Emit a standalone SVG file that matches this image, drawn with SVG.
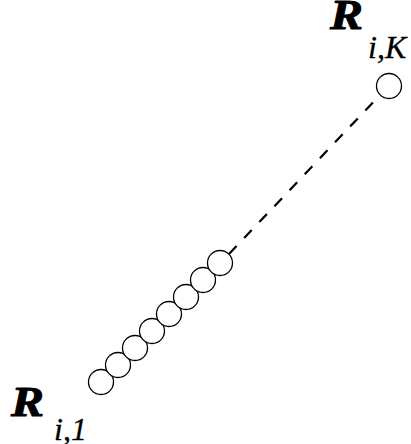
<svg xmlns="http://www.w3.org/2000/svg" width="411" height="444" viewBox="0 0 411 444">
<style>
.bead{fill:#fff;stroke:#000;stroke-width:1.3}
.R{font-family:"Liberation Serif",serif;font-weight:bold;font-style:italic;fill:#000;stroke:#000;stroke-width:0.9}
.sub{font-family:"Liberation Serif",serif;font-style:italic;fill:#000;stroke:#000;stroke-width:0.3}
.dash{stroke:#000;stroke-width:2.2;stroke-dasharray:11 11;fill:none}
</style>
<rect width="411" height="444" fill="#fff"/>
<g id="connectors">
<line class="dash" x1="229" y1="254" x2="380" y2="95"/>
</g>
<g id="chain">
<circle class="bead" cx="101" cy="382" r="12.5"/>
<circle class="bead" cx="118" cy="365" r="12.5"/>
<circle class="bead" cx="135" cy="348" r="12.5"/>
<circle class="bead" cx="152" cy="331" r="12.5"/>
<circle class="bead" cx="169" cy="314" r="12.5"/>
<circle class="bead" cx="186" cy="297" r="12.5"/>
<circle class="bead" cx="203" cy="280" r="12.5"/>
<circle class="bead" cx="220" cy="263" r="12.5"/>
</g>
<g id="endK">
<circle class="bead" cx="389" cy="86" r="12.5"/>
</g>
<g id="labelK">
<text class="R" x="330" y="29" font-size="42" textLength="33" lengthAdjust="spacingAndGlyphs">R</text>
<text class="sub" x="368" y="58" font-size="32">i,K</text>
</g>
<g id="label1">
<text class="R" x="11" y="416" font-size="42" textLength="33" lengthAdjust="spacingAndGlyphs">R</text>
<text class="sub" x="54" y="440" font-size="32">i,1</text>
</g>
</svg>
